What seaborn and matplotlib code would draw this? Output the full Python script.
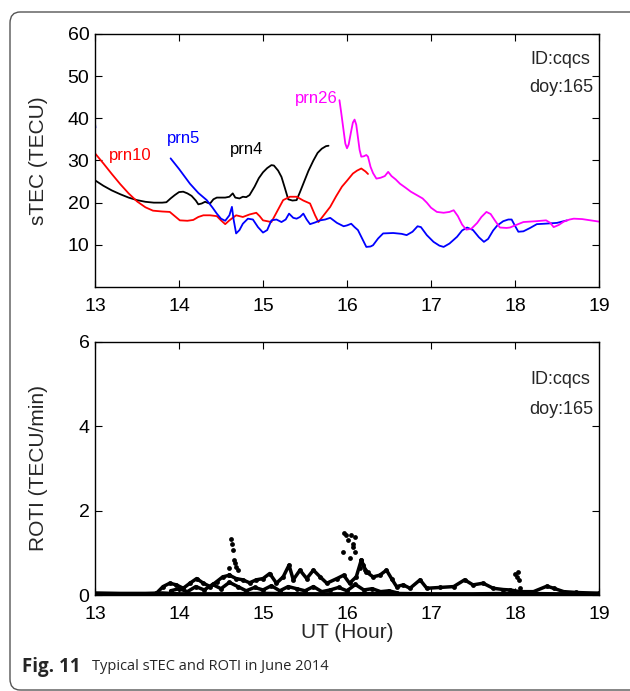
import numpy as np
import pandas as pd
import seaborn as sns
import matplotlib
matplotlib.use("Agg")
import matplotlib.pyplot as plt
from matplotlib.patches import FancyBboxPatch

# ---------------- data ----------------
prn4_hour = [13.0, 13.1, 13.2, 13.3, 13.4, 13.5, 13.6, 13.7, 13.8, 13.85, 13.9, 13.95, 14.0, 14.05,
             14.1, 14.15, 14.2, 14.23, 14.27, 14.31, 14.35, 14.37, 14.41, 14.45, 14.55, 14.6, 14.64,
             14.67, 14.72, 14.76, 14.8, 14.84, 14.9, 14.95, 15.0, 15.05, 15.1, 15.13, 15.18, 15.22,
             15.26, 15.3, 15.35, 15.4, 15.44, 15.48, 15.54, 15.6, 15.65, 15.7, 15.75, 15.78]
prn4_tec = [25.3, 24.0, 22.9, 22.0, 21.2, 20.6, 20.2, 20.0, 20.0, 20.1, 21.0, 21.8, 22.5, 22.6,
            22.2, 21.6, 20.5, 19.6, 19.8, 20.2, 19.9, 19.8, 20.8, 21.2, 21.2, 21.4, 22.2,
            21.2, 21.0, 21.4, 21.3, 21.8, 23.8, 25.8, 27.2, 28.2, 28.9, 28.8, 27.6, 26.1,
            23.5, 20.8, 20.5, 20.6, 22.5, 24.5, 27.5, 30.0, 31.8, 32.8, 33.4, 33.5]

prn10_hour = [13.0, 13.05, 13.1, 13.2, 13.3, 13.4, 13.5, 13.6, 13.69, 13.8, 13.89, 13.95, 14.01, 14.1,
              14.17, 14.23, 14.29, 14.37, 14.45, 14.5, 14.55, 14.6, 14.68, 14.76, 14.84, 14.92, 14.96,
              15.0, 15.1, 15.17, 15.24, 15.32, 15.4, 15.48, 15.56, 15.62, 15.66, 15.73, 15.80, 15.87,
              15.94, 16.0, 16.07, 16.12, 16.17, 16.22, 16.25]
prn10_tec = [31.7, 30.5, 29.3, 26.8, 24.4, 22.2, 20.3, 18.9, 18.1, 17.9, 17.8, 16.8, 15.8, 15.7,
             15.9, 16.6, 17.0, 17.0, 16.8, 15.8, 14.9, 15.8, 17.0, 16.6, 17.2, 17.6, 16.8,
             15.8, 15.4, 18.0, 20.6, 21.4, 21.4, 20.5, 19.8, 17.0, 15.4, 17.2, 19.0, 21.5,
             23.8, 25.2, 26.9, 27.6, 28.1, 27.4, 26.8]

prn5_start_hour = [13.0, 13.005]
prn5_start_tec = [38.8, 37.8]
prn5_hour = [13.9, 14.0, 14.13, 14.23, 14.33, 14.4, 14.45, 14.5, 14.55, 14.6, 14.63, 14.65, 14.68,
             14.72, 14.76, 14.82, 14.88, 14.94, 15.0, 15.05, 15.1, 15.16, 15.22, 15.27, 15.31, 15.36,
             15.40, 15.44, 15.48, 15.52, 15.56, 15.62, 15.68, 15.74, 15.80, 15.88, 15.96, 16.0,
             16.05, 16.09, 16.13, 16.18, 16.23, 16.28, 16.31, 16.37, 16.43, 16.55, 16.65, 16.71,
             16.78, 16.84, 16.88, 16.95, 17.03, 17.1, 17.15, 17.22, 17.31, 17.37, 17.43, 17.5,
             17.57, 17.63, 17.68, 17.74, 17.79, 17.86, 17.92, 17.96, 18.0, 18.04, 18.1, 18.18,
             18.26, 18.35, 18.50, 18.62]
prn5_tec = [30.5, 28.0, 24.5, 22.3, 20.6, 18.8, 17.4, 16.2, 15.7, 17.0, 19.0, 16.0, 12.7,
            13.5, 15.0, 16.2, 16.0, 14.2, 12.9, 13.5, 15.8, 16.0, 15.4, 16.0, 17.4, 16.4,
            16.2, 16.6, 17.4, 16.0, 14.9, 15.3, 15.8, 16.0, 16.4, 15.2, 14.4, 14.6,
            15.0, 14.2, 13.5, 11.5, 9.5, 9.6, 9.9, 11.5, 12.7, 12.8, 12.6, 12.3,
            13.1, 14.4, 14.2, 12.3, 10.7, 9.8, 9.5, 10.3, 11.9, 13.4, 14.1, 13.5,
            11.8, 10.7, 11.4, 13.4, 14.6, 15.6, 16.0, 16.0, 14.5, 13.1, 13.2, 14.0,
            14.9, 15.0, 15.2, 15.8]

prn26_hour = [15.91, 15.93, 15.96, 15.98, 16.0, 16.02, 16.05, 16.07, 16.09, 16.11, 16.13, 16.15, 16.17,
              16.2, 16.23, 16.25, 16.28, 16.31, 16.35, 16.4, 16.45, 16.49, 16.53, 16.58, 16.63, 16.7,
              16.76, 16.83, 16.9, 16.95, 17.0, 17.07, 17.15, 17.22, 17.27, 17.32, 17.37, 17.42, 17.48,
              17.55, 17.6, 17.66, 17.71, 17.76, 17.82, 17.9, 17.94, 18.0, 18.1, 18.25, 18.37, 18.42,
              18.46, 18.52, 18.58, 18.65, 18.70, 18.8, 18.9, 19.0]
prn26_tec = [44.3, 41.5, 37.0, 34.0, 32.9, 33.8, 37.0, 39.0, 39.7, 38.5, 35.5, 32.5, 30.9,
             31.0, 31.3, 30.9, 28.5, 27.0, 25.7, 25.9, 26.3, 27.3, 26.3, 25.5, 24.5, 23.5,
             22.6, 21.8, 21.0, 20.0, 18.8, 17.8, 17.6, 17.8, 18.2, 16.8, 14.8, 13.6, 13.8,
             15.2, 16.6, 17.8, 17.3, 15.8, 14.1, 14.0, 14.1, 14.6, 15.4, 15.6, 15.8, 15.2,
             14.2, 14.7, 15.5, 16.0, 16.2, 16.1, 15.8, 15.5]

roti_base_hour = [13.0, 13.3, 13.6, 13.8, 14.0, 14.5, 15.0, 15.5, 16.0, 16.5, 17.0, 17.5, 18.0, 18.5, 19.0]
roti_base = [0.04, 0.03, 0.03, 0.04, 0.02, 0.02, 0.03, 0.02, 0.02, 0.03, 0.02, 0.02, 0.03, 0.02, 0.03]

roti_a_hour = [13.73, 13.81, 13.89, 13.97, 14.05, 14.13, 14.21, 14.29, 14.37, 14.45, 14.52, 14.6, 14.68,
               14.76, 14.84, 14.92, 15.0, 15.08, 15.16, 15.24, 15.31, 15.36, 15.44, 15.52, 15.6, 15.68,
               15.76, 15.88, 15.96, 16.03, 16.11, 16.17, 16.23, 16.31, 16.39, 16.47, 16.53, 16.59,
               16.67, 16.75, 16.87, 16.95, 17.11, 17.27, 17.4, 17.5, 17.62, 17.74, 17.86, 17.94,
               18.06, 18.22, 18.38, 18.46, 18.58, 18.73, 19.0]
roti_a = [0.04, 0.2, 0.28, 0.24, 0.16, 0.28, 0.39, 0.28, 0.2, 0.32, 0.43, 0.47, 0.39,
          0.36, 0.29, 0.36, 0.39, 0.51, 0.28, 0.43, 0.71, 0.36, 0.59, 0.39, 0.59, 0.43,
          0.28, 0.39, 0.47, 0.28, 0.43, 0.83, 0.55, 0.43, 0.47, 0.59, 0.39, 0.2,
          0.24, 0.16, 0.36, 0.16, 0.18, 0.2, 0.36, 0.24, 0.28, 0.16, 0.13, 0.12,
          0.08, 0.08, 0.21, 0.16, 0.08, 0.06, 0.04]

roti_b_hour = [13.9, 14.0, 14.1, 14.2, 14.3, 14.4, 14.5, 14.6, 14.7, 14.8, 14.9, 15.0, 15.1, 15.2,
               15.3, 15.4, 15.5, 15.6, 15.7, 15.8, 15.9, 16.0, 16.1, 16.2, 16.3, 16.4, 16.5, 16.6]
roti_b = [0.1, 0.15, 0.08, 0.2, 0.12, 0.25, 0.15, 0.3, 0.2, 0.1, 0.18, 0.12, 0.22, 0.1,
          0.2, 0.15, 0.1, 0.2, 0.08, 0.12, 0.18, 0.1, 0.25, 0.12, 0.15, 0.08, 0.1, 0.05]

spike_hour = [14.62, 14.63, 14.64, 14.65, 14.67, 14.68, 14.7, 14.6, 14.6,
              15.97, 15.99, 16.05, 16.09, 16.01, 16.07, 16.07, 15.95, 16.09, 16.03, 16.17, 16.19,
              16.21, 16.25, 16.15,
              18.0, 18.04, 18.02, 18.05, 18.06]
spike_roti = [1.34, 1.22, 1.07, 0.83, 0.75, 0.67, 0.59, 0.63, 0.47,
              1.46, 1.42, 1.42, 1.38, 1.30, 1.22, 1.15, 1.03, 1.03, 0.87, 0.83, 0.71,
              0.59, 0.55, 0.63,
              0.51, 0.55, 0.43, 0.36, 0.16]

hour_ticks = [13, 14, 15, 16, 17, 18, 19]
tec_ticks = [10, 20, 30, 40, 50, 60]
roti_ticks = [0, 2, 4, 6]

# ---------------- style ----------------
sns.set_theme(style="white")
plt.rcParams["font.family"] = ["Liberation Sans", "DejaVu Sans"]
plt.rcParams["xtick.direction"] = "in"
plt.rcParams["ytick.direction"] = "in"

fig = plt.figure(figsize=(6.3, 6.91), dpi=100)
ax1 = fig.add_axes([0.1508, 0.5847, 0.8, 0.3661])
ax2 = fig.add_axes([0.1508, 0.1389, 0.8, 0.3662])

# ---------------- top: sTEC ----------------
frames = []
for name, seg, h, v in [("prn4", "a", prn4_hour, prn4_tec),
                        ("prn10", "a", prn10_hour, prn10_tec),
                        ("prn5", "s", prn5_start_hour, prn5_start_tec),
                        ("prn5", "a", prn5_hour, prn5_tec),
                        ("prn26", "a", prn26_hour, prn26_tec)]:
    frames.append(pd.DataFrame({"hour": h, "tec": v, "prn": name, "seg": name + seg}))
tec_df = pd.concat(frames, ignore_index=True)
palette = {"prn4": "black", "prn10": "#ff0000", "prn5": "#0000ff", "prn26": "#ff00ff"}
sns.lineplot(data=tec_df, x="hour", y="tec", hue="prn", units="seg", estimator=None,
             sort=False, palette=palette, lw=1.3, legend=False, ax=ax1)

ax1.set_xlim(13, 19)
ax1.set_ylim(0, 60)
ax1.set_xticks(hour_ticks)
ax1.set_yticks(tec_ticks)
ax1.set_xlabel("")
ax1.set_ylabel("sTEC (TECU)", fontsize=15)
ax1.yaxis.set_label_coords(-0.093, 0.5)
ax1.text(13.42, 31.3, "prn10", color="#ff0000", fontsize=12, ha="center", va="center")
ax1.text(14.05, 35.1, "prn5", color="#0000ff", fontsize=12, ha="center", va="center")
ax1.text(14.8, 32.5, "prn4", color="black", fontsize=12, ha="center", va="center")
ax1.text(15.64, 44.6, "prn26", color="#ff00ff", fontsize=12, ha="center", va="center")
ax1.text(18.9, 54.0, "ID:cqcs", fontsize=13, ha="right", va="center")
ax1.text(18.93, 47.2, "doy:165", fontsize=13, ha="right", va="center")

# ---------------- bottom: ROTI ----------------
sns.lineplot(x=roti_base_hour, y=roti_base, color="black", lw=3, estimator=None, sort=False, ax=ax2)
sns.lineplot(x=roti_a_hour, y=roti_a, color="black", lw=2.5, marker="o", markersize=3.5,
             markeredgewidth=0, estimator=None, sort=False, ax=ax2)
sns.lineplot(x=roti_b_hour, y=roti_b, color="black", lw=2.5, marker="o", markersize=3.5,
             markeredgewidth=0, estimator=None, sort=False, ax=ax2)
sns.scatterplot(x=spike_hour, y=spike_roti, color="black", s=12, linewidth=0, ax=ax2)

ax2.set_xlim(13, 19)
ax2.set_ylim(0, 6)
ax2.set_xticks(hour_ticks)
ax2.set_yticks(roti_ticks)
ax2.set_xlabel("UT (Hour)", fontsize=15, labelpad=0)
ax2.set_ylabel("ROTI (TECU/min)", fontsize=15)
ax2.yaxis.set_label_coords(-0.093, 0.5)
ax2.text(18.9, 5.12, "ID:cqcs", fontsize=13, ha="right", va="center")
ax2.text(18.93, 4.41, "doy:165", fontsize=13, ha="right", va="center")

for ax in (ax1, ax2):
    for sp in ax.spines.values():
        sp.set_visible(True)
        sp.set_color("black")
        sp.set_linewidth(1.0)
    ax.tick_params(axis="both", which="both", direction="in", length=5, width=0.8,
                   top=True, right=True, bottom=True, left=True, labelsize=14,
                   colors="black", pad=8)
    ax.tick_params(axis="y", pad=4)

# ---------------- frame and caption ----------------
frame = FancyBboxPatch((10 / 630, 1 - 690 / 691), 640 / 630, (690 - 12) / 691,
                       boxstyle="round,pad=0,rounding_size=0.016", transform=fig.transFigure,
                       fill=False, edgecolor="#555555", lw=1.0, clip_on=False)
fig.patches.append(frame)
fig.text(22 / 630, 1 - 667 / 691, "Fig. 11", fontsize=13.5, fontweight="bold",
         family="Open Sans", va="center", ha="left")
fig.text(92 / 630, 1 - 667 / 691, "Typical sTEC and ROTI in June 2014", fontsize=10.5,
         family="Open Sans", va="center", ha="left")

fig.savefig("out.png", dpi=100)
